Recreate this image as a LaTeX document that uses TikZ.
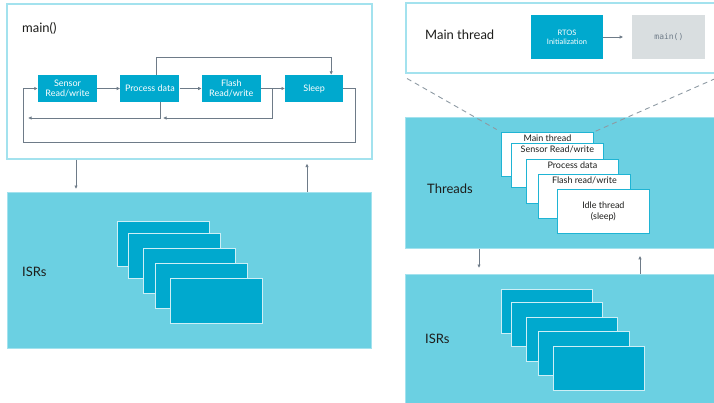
\documentclass[tikz,border=0pt]{standalone}
\usepackage{fontspec}
\setmainfont{Lato}
\setmonofont{DejaVu Sans Mono}
\usetikzlibrary{arrows.meta, positioning}
\definecolor{paneblue}{HTML}{6BD0E2}
\definecolor{paneedge}{HTML}{A3E2EE}
\definecolor{cardblue}{HTML}{00A9CE}
\definecolor{cardedge}{HTML}{CDEFF6}
\definecolor{threadedge}{HTML}{1FB4D4}
\definecolor{flowgray}{HTML}{6E7B88}
\definecolor{dashgray}{HTML}{8E9AA3}
\definecolor{maingray}{HTML}{D9DEE0}
\definecolor{inkdark}{HTML}{1D1D1B}

\begin{document}
\begin{tikzpicture}[ x = 1pt, y = -1pt
                     , font = \fontsize{9}{10.5}\selectfont
                     , text = inkdark
                     , >={Latex[width=3.5pt, length=3.5pt]}
                     , panel/.style = { rectangle, anchor = north west
                                      , fill = paneblue, draw = paneedge
                                      , line width = 0.8pt }
                     , whitepanel/.style = { panel, fill = white
                                           , line width = 1.5pt }
                     , stepbox/.style = { rectangle, fill = cardblue
                                        , text = white, align = center
                                        , minimum width = 59pt
                                        , minimum height = 27pt
                                        , inner sep = 1pt }
                     , isrcard/.style = { rectangle, anchor = north west
                                        , fill = cardblue, draw = cardedge
                                        , line width = 0.8pt
                                        , minimum width = 92pt
                                        , minimum height = 45pt }
                     , threadcard/.style = { rectangle, anchor = north west
                                           , fill = white, draw = threadedge
                                           , line width = 0.8pt
                                           , minimum width = 92pt
                                           , minimum height = 44pt
                                           , font = \fontsize{9}{11}\selectfont }
                     , flow/.style = { draw = flowgray, line width = 0.8pt }
                     , title/.style = { anchor = west, inner sep = 0pt
                                      , font = \fontsize{13}{15}\selectfont }
                     ]

  \useasboundingbox (0,0) rectangle (714,402);

  % left side: bare-metal loop
  \node (mainbox) [whitepanel, minimum width = 365pt, minimum height = 155pt] at (6,3) {};
  \node (maintitle) [title] at (22,28) {main()};

  \node (sensor) [stepbox] at (67.5,88.5) {Sensor\\Read/write};
  \node (process) [stepbox, right = 23pt of sensor] {Process data};
  \node (flash) [stepbox, right = 22pt of process] {Flash\\Read/write};
  \node (sleep) [stepbox, right = 24pt of flash, minimum width = 58pt] {Sleep};

  \coordinate (fjoin) at (272,88.5);
  \coordinate (fback) at (163,118);
  \coordinate (pback) at (28,118);

  \draw[->, flow] (sensor) -- (process);
  \draw[->, flow] (process) -- (flash);
  \draw[flow] (flash) -- (fjoin);
  \draw[->, flow] (fjoin) -- (sleep);
  \draw[->, flow] (fjoin) |- (fback);
  \draw[->, flow] ([xshift=10.5pt]process.south) |- (pback);
  \draw[->, flow] ([xshift=6.5pt]process.north) -- ++(0,-17) -| ([xshift=17pt]sleep.north);
  \draw[->, flow] (sleep.east) -- ++(12,0) -- ++(0,53.5) -| ([xshift=-14pt]sensor.west) -- (sensor.west);

  \node (isrs) [panel, minimum width = 364pt, minimum height = 156pt] at (7,192) {};
  \node (isrstitle) [title] at (22,272) {ISRs};
  \foreach \x/\y [count=\i] in {117/221, 128/233, 143/248, 155/263, 170/278}
    \node (isrcard\i) [isrcard] at (\x,\y) {};

  \draw[->, flow, shorten > = 3pt] ([xshift=70pt]mainbox.south west) -- ([xshift=69pt]isrs.north west);
  \draw[->, flow, shorten > = 4pt] ([xshift=300pt]isrs.north west) -- ([xshift=301pt]mainbox.south west);

  % right side: RTOS threads
  \node (mtbox) [whitepanel, minimum width = 309pt, minimum height = 70pt] at (405,2) {};
  \node (mttitle) [title] at (425,35) {Main thread};
  \node (rtos) [stepbox, minimum width = 72pt, minimum height = 44pt,
                font = \fontsize{7.5}{9}\selectfont] at (567,37) {RTOS\\Initialization};
  \node (mainfn) [rectangle, fill = maingray, minimum width = 73pt, minimum height = 44pt,
                  text = flowgray, font = \ttfamily\fontsize{8}{9}\selectfont,
                  right = 29pt of rtos] {main()};
  \draw[->, flow, shorten > = 9pt] (rtos) -- (mainfn);

  \node (threads) [panel, minimum width = 309pt, minimum height = 131pt] at (405,117) {};
  \node (threadstitle) [title] at (427,189) {Threads};
  \foreach \x/\y/\t [count=\i] in {501/132/{Main thread}, 511/143/{Sensor Read/write},
                                   526/159/{Process data}, 538/174/{Flash read/write}}
    \node (thread\i) [threadcard, label = {[anchor = north, inner sep = 2.5pt,
                      font = \fontsize{9}{11}\selectfont]north:\t}] at (\x,\y) {};
  \node (idle) [threadcard, align = center] at (557,189) {Idle thread\\(sleep)};

  \draw[dashed, draw = dashgray, line width = 0.9pt, dash pattern = on 5pt off 4pt, shorten > = 5pt]
    ([shift={(2,5)}]mtbox.south west) -- (thread1.north west);
  \draw[dashed, draw = dashgray, line width = 0.9pt, dash pattern = on 5pt off 4pt, shorten > = 2pt]
    ([shift={(0,5)}]mtbox.south east) -- (thread1.north east);

  \node (isrsr) [panel, minimum width = 309pt, minimum height = 130pt] at (405,274) {};
  \node (isrsrtitle) [title] at (425,339) {ISRs};
  \foreach \x/\y [count=\i] in {501/289, 511/302, 526/317, 538/331, 553/346}
    \node (isrcardr\i) [isrcard, minimum width = 91pt, minimum height = 44pt] at (\x,\y) {};

  \draw[->, flow, shorten > = 6pt] ([xshift=74pt]threads.south west) -- ([xshift=74pt]isrsr.north west);
  \draw[->, flow, shorten > = 7pt] ([xshift=235pt]isrsr.north west) -- ([xshift=235pt]threads.south west);

\end{tikzpicture}
\end{document}
